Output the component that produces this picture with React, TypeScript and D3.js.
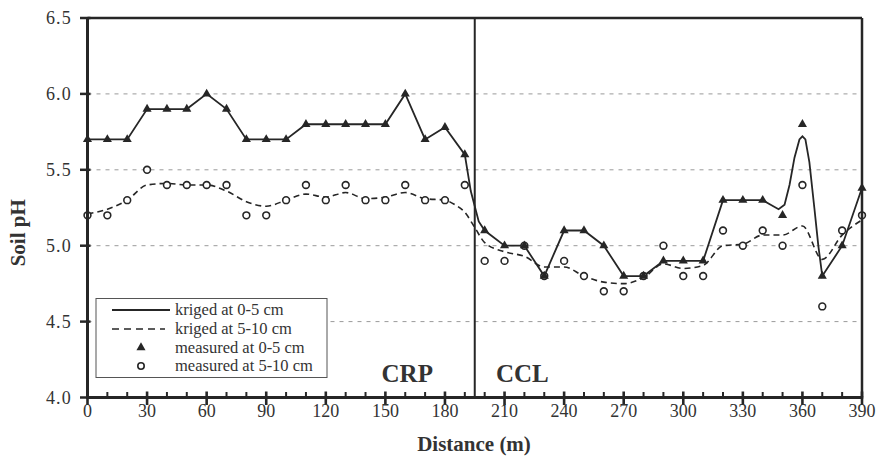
import React from 'react';
import * as d3 from 'd3';

// ---- data ----
const distances = [0, 10, 20, 30, 40, 50, 60, 70, 80, 90, 100, 110, 120, 130, 140, 150, 160, 170, 180, 190,
  200, 210, 220, 230, 240, 250, 260, 270, 280, 290, 300, 310, 320, 330, 340, 350, 360, 370, 380, 390];

const measured0_5 = [5.7, 5.7, 5.7, 5.9, 5.9, 5.9, 6.0, 5.9, 5.7, 5.7, 5.7, 5.8, 5.8, 5.8, 5.8, 5.8, 6.0, 5.7, 5.78, 5.6,
  5.1, 5.0, 5.0, 4.8, 5.1, 5.1, 5.0, 4.8, 4.8, 4.9, 4.9, 4.9, 5.3, 5.3, 5.3, 5.2, 5.8, 4.8, 5.0, 5.38];

const measured5_10 = [5.2, 5.2, 5.3, 5.5, 5.4, 5.4, 5.4, 5.4, 5.2, 5.2, 5.3, 5.4, 5.3, 5.4, 5.3, 5.3, 5.4, 5.3, 5.3, 5.4,
  4.9, 4.9, 5.0, 4.8, 4.9, 4.8, 4.7, 4.7, 4.8, 5.0, 4.8, 4.8, 5.1, 5.0, 5.1, 5.0, 5.4, 4.6, 5.1, 5.2];

const krigedDist0_5 = [0, 10, 20, 30, 40, 50, 60, 70, 80, 90, 100, 110, 120, 130, 140, 150, 160, 170, 180, 190,
  193, 197, 200, 210, 220, 230, 240, 250, 260, 270, 280, 290, 300, 310, 320, 330, 340, 344, 348, 351, 353.5,
  356, 358.5, 360, 361.5, 363.5, 366, 368, 370, 380, 390];
const kriged0_5 = [5.7, 5.7, 5.7, 5.9, 5.9, 5.9, 6.0, 5.9, 5.7, 5.7, 5.7, 5.8, 5.8, 5.8, 5.8, 5.8, 6.0, 5.7, 5.78, 5.6,
  5.36, 5.16, 5.1, 5.0, 5.0, 4.8, 5.1, 5.1, 5.0, 4.8, 4.8, 4.9, 4.9, 4.9, 5.3, 5.3, 5.3, 5.27, 5.24, 5.27, 5.4,
  5.58, 5.7, 5.72, 5.7, 5.55, 5.25, 5.0, 4.8, 5.0, 5.38];

const krigedDist5_10 = [0, 10, 20, 30, 40, 50, 60, 70, 80, 90, 100, 110, 120, 130, 140, 150, 160, 170, 180, 185, 190,
  195, 200, 210, 220, 230, 240, 250, 260, 270, 280, 290, 300, 310, 320, 330, 340, 350, 360, 370, 380, 390];
const kriged5_10 = [5.21, 5.24, 5.3, 5.4, 5.41, 5.4, 5.4, 5.36, 5.29, 5.26, 5.3, 5.34, 5.32, 5.35, 5.31, 5.32, 5.35, 5.31, 5.3, 5.27, 5.22,
  5.12, 5.02, 4.96, 4.93, 4.86, 4.86, 4.8, 4.76, 4.75, 4.79, 4.88, 4.85, 4.87, 5.0, 5.01, 5.07, 5.07, 5.13, 4.91, 5.07, 5.17];

const yTicks = [4.0, 4.5, 5.0, 5.5, 6.0, 6.5];
const yGrid = [4.5, 5.0, 5.5, 6.0];
const xMajorTicks = [0, 30, 60, 90, 120, 150, 180, 210, 240, 270, 300, 330, 360, 390];
const xMinorTicks = [10, 20, 40, 50, 70, 80, 100, 110, 130, 140, 160, 170, 190, 200, 220, 230, 250, 260, 280, 290, 310, 320, 340, 350, 370, 380];
const boundary = 195;
const sections = [{ label: 'CRP', at: 161 }, { label: 'CCL', at: 219 }];
const legendLabels = ['kriged at 0-5 cm', 'kriged at 5-10 cm', 'measured at 0-5 cm', 'measured at 5-10 cm'];

// ---- layout ----
const W = 879;
const H = 463;
const INK = '#262626';
const SERIF = '"Liberation Serif", "Times New Roman", serif';

export default function App() {
  const x = d3.scaleLinear().domain([0, 390]).range([87.5, 862]);
  const y = d3.scaleLinear().domain([4, 6.5]).range([397.5, 18]);
  const x0 = x(0), x1 = x(390), yb = y(4), yt = y(6.5);

  const solidLine = d3.line<number>().x((_, i) => x(krigedDist0_5[i])).y((d) => y(d)).curve(d3.curveLinear);
  const dashLine = d3.line<number>().x((_, i) => x(krigedDist5_10[i])).y((d) => y(d)).curve(d3.curveMonotoneX);
  const tri = d3.symbol().type(d3.symbolTriangle).size(36)() as string;

  const lx = 112, lx2 = 170, ltx = 175;
  const rowsY = [310, 329, 347.5, 366];

  return (
    <svg width={W} height={H} style={{ position: 'absolute', left: 0, top: 0, background: '#fff' }}
      fontFamily={SERIF}>
      {/* grid */}
      {yGrid.map((g) => (
        <line key={g} x1={x0} x2={x1} y1={y(g)} y2={y(g)} stroke="#9a9a9a" strokeWidth={1} strokeDasharray="4,5" />
      ))}

      {/* kriged lines */}
      <path d={dashLine(kriged5_10) || ''} fill="none" stroke={INK} strokeWidth={1.6} strokeDasharray="6,4" />
      <path d={solidLine(kriged0_5) || ''} fill="none" stroke={INK} strokeWidth={1.8} />

      {/* measured markers */}
      {measured5_10.map((v, i) => (
        <circle key={'c' + i} cx={x(distances[i])} cy={y(v)} r={3.4} fill="#fff" stroke={INK} strokeWidth={1.6} />
      ))}
      {measured0_5.map((v, i) => (
        <path key={'t' + i} d={tri} transform={`translate(${x(distances[i])},${y(v)})`} fill={INK} />
      ))}

      {/* frame */}
      <line x1={x0} x2={x1} y1={yt} y2={yt} stroke={INK} strokeWidth={2.5} />
      <line x1={x1} x2={x1} y1={yt} y2={yb} stroke={INK} strokeWidth={2.5} />
      <line x1={x(boundary)} x2={x(boundary)} y1={yt} y2={yb} stroke={INK} strokeWidth={2} />

      {/* y axis */}
      <line x1={x0} x2={x0} y1={yt - 1} y2={yb + 1.5} stroke={INK} strokeWidth={3} />
      {yTicks.map((t) => (
        <g key={t}>
          <line x1={x0 - 7.5} x2={x0 + 3} y1={y(t)} y2={y(t)} stroke={INK} strokeWidth={2.5} />
          <text x={72} y={y(t)} dy="0.34em" textAnchor="end" fontSize={18} fill="#333" letterSpacing={1.2}>
            {d3.format('.1f')(t)}
          </text>
        </g>
      ))}
      <text transform={`translate(25,${(yt + yb) / 2 + 25}) rotate(-90)`} textAnchor="middle" fontSize={21}
        fontWeight="bold" fill="#333">Soil pH</text>

      {/* x axis */}
      <line x1={x0 - 1.5} x2={x1 + 1.2} y1={yb} y2={yb} stroke={INK} strokeWidth={3} />
      {xMinorTicks.map((t) => (
        <line key={'m' + t} x1={x(t)} x2={x(t)} y1={yb - 5.5} y2={yb + 1} stroke={INK} strokeWidth={2} />
      ))}
      {xMajorTicks.map((t) => (
        <g key={'M' + t}>
          <line x1={x(t)} x2={x(t)} y1={yb - 6} y2={yb + 7.5} stroke={INK} strokeWidth={2.6} />
          <text x={x(t)} y={417} textAnchor="middle" fontSize={18} fill="#333">{t}</text>
        </g>
      ))}
      <text x={474} y={451} textAnchor="middle" fontSize={21} fontWeight="bold" fill="#333">Distance (m)</text>

      {/* section labels */}
      {sections.map((s) => (
        <text key={s.label} x={x(s.at)} y={382} textAnchor="middle" fontSize={25} fontWeight="bold" fill="#333">
          {s.label}
        </text>
      ))}

      {/* legend */}
      <rect x={96} y={298.5} width={231} height={79} fill="#fff" stroke="#555" strokeWidth={1} />
      <line x1={lx} x2={lx2} y1={rowsY[0]} y2={rowsY[0]} stroke={INK} strokeWidth={1.8} />
      <line x1={lx} x2={lx2 - 5} y1={rowsY[1]} y2={rowsY[1]} stroke={INK} strokeWidth={1.6} strokeDasharray="7,5" />
      <path d={tri} transform={`translate(141,${rowsY[2]})`} fill={INK} />
      <circle cx={141} cy={rowsY[3]} r={3.2} fill="#fff" stroke={INK} strokeWidth={1.6} />
      {legendLabels.map((l, i) => (
        <text key={l} x={ltx} y={rowsY[i]} dy="0.33em" fontSize={16.5} fill="#333">{l}</text>
      ))}
    </svg>
  );
}
